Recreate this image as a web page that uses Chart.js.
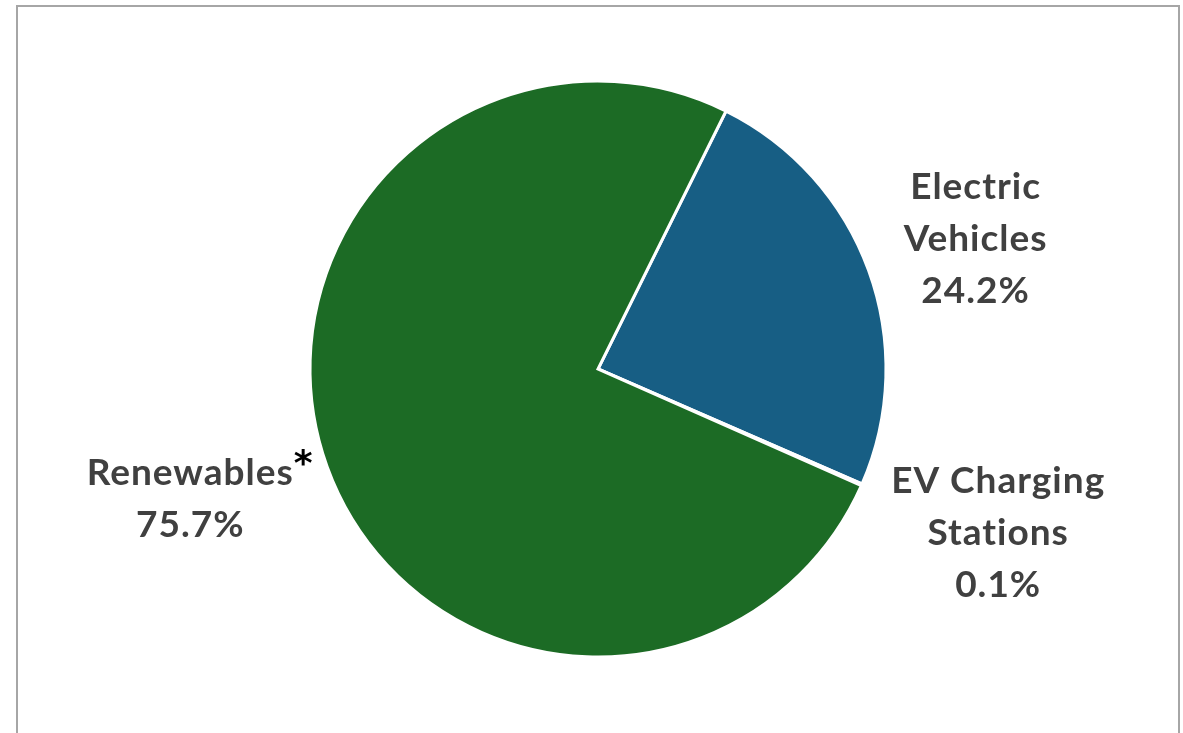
<!DOCTYPE html>
<html>
<head>
<meta charset="utf-8">
<script src="https://cdn.jsdelivr.net/npm/chart.js@4.4.1/dist/chart.umd.min.js"></script>
<style>
  html, body { margin: 0; padding: 0; background: #fff; }
  #wrap { position: relative; width: 1183px; height: 733px; }
  #frame {
    position: absolute; left: 16px; top: 5px; width: 1164px; height: 740px;
    border: 2px solid #a6a6a6; border-bottom: none; box-sizing: border-box;
  }
  #chart { position: absolute; left: 0; top: 0; }
</style>
</head>
<body>
<div id="wrap">
  <div id="frame"></div>
  <canvas id="chart" width="1183" height="733"></canvas>
</div>
<script>
// slice data, clockwise from the start angle
var categories = ['Electric Vehicles', 'EV Charging Stations', 'Renewables'];
var labelLines = [['Electric', 'Vehicles'], ['EV Charging', 'Stations'], ['Renewables']];
var footnoteMarks = ['', '', '*'];
var shares = [24.2, 0.1, 75.7];
var sliceColors = ['#175e84', '#2f7a3a', '#1c6b25'];

var labelFont = 'bold 37px Lato';
var lineHeight = 52;
var labelGap = 42;

// outside-end labels positioned from each arc's own geometry
var outsideLabels = {
  id: 'outsideLabels',
  afterDatasetsDraw: function(chart) {
    var ctx = chart.ctx;
    var meta = chart.getDatasetMeta(0);
    ctx.save();
    ctx.font = labelFont;
    ctx.letterSpacing = '1px';
    ctx.fillStyle = '#404040';
    ctx.textAlign = 'center';
    ctx.textBaseline = 'alphabetic';
    meta.data.forEach(function(arc, i) {
      var p = arc.getProps(['x', 'y', 'startAngle', 'endAngle', 'outerRadius'], true);
      var mid = (p.startAngle + p.endAngle) / 2;
      var dx = Math.cos(mid), dy = Math.sin(mid);
      var lines = labelLines[i].concat([shares[i].toFixed(1) + '%']);
      var w = 0;
      lines.forEach(function(t) { w = Math.max(w, ctx.measureText(t).width); });
      var capH = 26;
      var h = capH + lineHeight * (lines.length - 1);
      var cx = p.x + dx * (p.outerRadius + labelGap) + dx * w / 2;
      var cy = p.y + dy * (p.outerRadius + labelGap) + dy * h / 2 + 4;
      var top = cy - h / 2 + capH;
      lines.forEach(function(t, k) {
        ctx.fillText(t, cx, top + k * lineHeight);
      });
      if (footnoteMarks[i]) {
        var tw = ctx.measureText(lines[0]).width;
        ctx.save();
        ctx.font = 'bold 36px "DejaVu Sans"';
        ctx.letterSpacing = '0px';
        ctx.fillStyle = '#000';
        ctx.textAlign = 'left';
        ctx.fillText(footnoteMarks[i], cx + tw / 2, top - 10);
        ctx.restore();
      }
    });
    ctx.restore();
  }
};

new Chart(document.getElementById('chart').getContext('2d'), {
  type: 'pie',
  data: {
    labels: categories,
    datasets: [{
      data: shares,
      backgroundColor: sliceColors,
      borderColor: '#ffffff',
      borderWidth: 3,
      borderJoinStyle: 'miter'
    }]
  },
  options: {
    responsive: false,
    animation: false,
    rotation: 26.4,
    radius: 288,
    layout: { padding: { left: 13, right: 0, top: 5, bottom: 0 } },
    plugins: {
      legend: { display: false },
      tooltip: { enabled: false }
    }
  },
  plugins: [outsideLabels]
});
</script>
</body>
</html>
